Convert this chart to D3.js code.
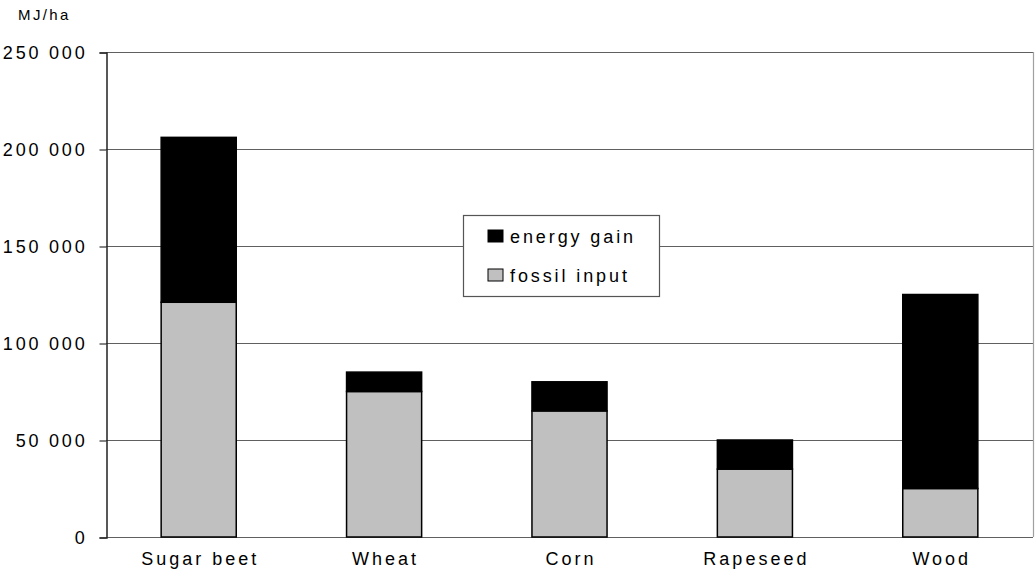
<!DOCTYPE html>
<html>
<head>
<meta charset="utf-8">
<script src="https://cdn.jsdelivr.net/npm/d3@7"></script>
<style>
  body { margin: 0; background: #fff; }
  svg text { font-family: "Liberation Sans", Arial, sans-serif; fill: #000; }
</style>
</head>
<body>
<svg id="chart" width="1035" height="570"></svg>
<script>
  // values, MJ/ha
  var crops = ['Sugar beet', 'Wheat', 'Corn', 'Rapeseed', 'Wood'];
  var fossilInput = [121000, 75000, 65000, 35000, 25000];
  var energyGain = [85000, 10000, 15000, 15000, 100000];
  var yTicks = [0, 50000, 100000, 150000, 200000, 250000];
  var seriesNames = ['energy gain', 'fossil input'];
  var seriesColors = ['#000000', '#c0c0c0'];

  (function () {
    'use strict';
    var svg = d3.select('#chart');
    var plotLeft = 106, plotRight = 1033, plotTop = 52, plotBottom = 537;

    var x = d3.scaleBand().domain(crops).range([plotLeft, plotRight])
      .paddingInner(0.595).paddingOuter(0.2975);
    var y = d3.scaleLinear().domain([0, 250000]).range([plotBottom, plotTop]);

    var fmt = function(v) { return d3.format(',')(v).replace(/,/g, ' '); };

    // gridlines
    svg.append('g').selectAll('line').data(yTicks).enter().append('line')
      .attr('x1', plotLeft).attr('x2', plotRight)
      .attr('y1', function(d) { return y(d) + 0.5; })
      .attr('y2', function(d) { return y(d) + 0.5; })
      .attr('stroke', '#606060').attr('stroke-width', 1.2);

    // right border
    svg.append('line')
      .attr('x1', plotRight + 0.5).attr('x2', plotRight + 0.5)
      .attr('y1', plotTop).attr('y2', plotBottom)
      .attr('stroke', '#a0a0a0').attr('stroke-width', 1.2);

    // y axis
    var yAxis = d3.axisLeft(y).tickValues(yTicks).tickSize(7).tickPadding(12).tickFormat(fmt);
    var ga = svg.append('g').attr('transform', 'translate(' + (plotLeft + 0.5) + ',0.5)').call(yAxis);
    ga.select('.domain').attr('stroke', '#222').attr('stroke-width', 1.5);
    ga.selectAll('.tick line').attr('stroke', '#333').attr('stroke-width', 1.2);
    ga.selectAll('.tick text')
      .attr('font-size', 18).attr('letter-spacing', 2.8)
      .attr('font-family', '"Liberation Sans", Arial, sans-serif')
      .attr('fill', '#000').attr('dy', '0.36em');

    // stacked bars
    var stackData = crops.map(function(c, i) {
      return { crop: c, fossil: fossilInput[i], gain: energyGain[i] };
    });
    var stack = d3.stack().keys(['fossil', 'gain'])(stackData);
    var colorFor = { fossil: seriesColors[1], gain: seriesColors[0] };

    svg.append('g').selectAll('g').data(stack).enter().append('g')
      .attr('fill', function(s) { return colorFor[s.key]; })
      .selectAll('rect').data(function(s) { return s; }).enter().append('rect')
      .attr('x', function(d) { return x(d.data.crop); })
      .attr('width', x.bandwidth())
      .attr('y', function(d) { return y(d[1]); })
      .attr('height', function(d) { return y(d[0]) - y(d[1]); })
      .attr('stroke', '#000').attr('stroke-width', 1.5);

    // category labels
    svg.append('g').selectAll('text').data(crops).enter().append('text')
      .attr('x', function(d) { return x(d) + x.bandwidth() / 2 + 1.5; })
      .attr('y', 565)
      .attr('text-anchor', 'middle')
      .attr('font-size', 18).attr('letter-spacing', 3)
      .text(function(d) { return d; });

    // unit label
    svg.append('text')
      .attr('x', 18).attr('y', 20)
      .attr('font-size', 15).attr('letter-spacing', 2.4)
      .text('MJ/ha');

    // legend
    var legend = svg.append('g').attr('transform', 'translate(463,215)');
    legend.append('rect')
      .attr('x', 0.5).attr('y', 0.5).attr('width', 196).attr('height', 81)
      .attr('fill', '#fff').attr('stroke', '#555').attr('stroke-width', 1.2);
    var items = legend.selectAll('.item').data(seriesNames).enter().append('g')
      .attr('class', 'item')
      .attr('transform', function(d, i) { return 'translate(25,' + (15 + i * 39) + ')'; });
    items.append('rect')
      .attr('width', 15).attr('height', 12)
      .attr('fill', function(d, i) { return seriesColors[i]; })
      .attr('stroke', '#000').attr('stroke-width', 1);
    items.append('text')
      .attr('x', 22).attr('y', 13)
      .attr('font-size', 18).attr('letter-spacing', 2.9)
      .text(function(d) { return d; });
  }());
</script>
</body>
</html>
